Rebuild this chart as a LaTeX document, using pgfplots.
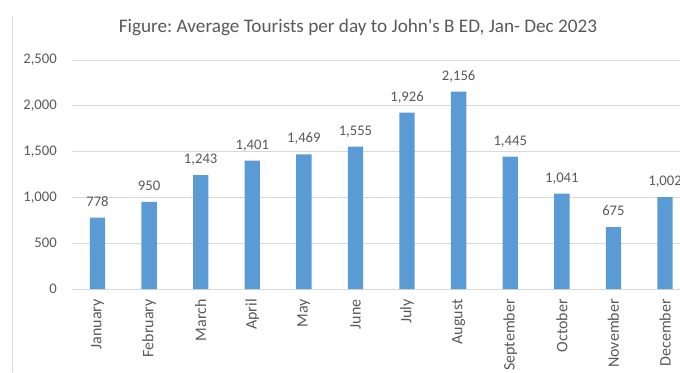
\documentclass[border=0pt]{standalone}
\usepackage{pgfplots}
\pgfplotsset{compat=1.18}
\usepackage{fontspec}
\setmainfont{Carlito}
\newfontfamily\labelfont{Carlito}
\newfontfamily\titlefont{Carlito}[Ligatures=TeXOff]
\definecolor{barblue}{HTML}{5B9BD5}
\definecolor{txt}{HTML}{595959}
\definecolor{gridc}{HTML}{D9D9D9}
\frenchspacing
\begin{document}
\begin{tikzpicture}
\useasboundingbox (0,0) rectangle (510pt,279pt);
\draw[gridc, line width=0.75pt] (9pt,0) -- (9pt,267pt);
\node[txt, font=\titlefont\fontsize{14.4}{17}\selectfont, anchor=base, inner sep=0pt] at (268.5pt,254.25pt) {Figure: Average Tourists per day to John's B ED, Jan- Dec 2023};
\begin{axis}[
  at={(54pt,62.25pt)}, anchor=south west,
  scale only axis, width=456pt, height=171.75pt,
  xmin=-0.494, xmax=11.29, ymin=0, ymax=2500,
  ytick={0,500,1000,1500,2000,2500},
  xtick={0,1,2,3,4,5,6,7,8,9,10,11},
  xticklabels={January,February,March,April,May,June,July,August,September,October,November,December},
  axis line style={draw=none},
  major tick length=0pt,
  ymajorgrids, grid style={gridc, line width=0.75pt},
  /pgf/number format/.cd, 1000 sep={,}, assume math mode=true, /pgfplots/.cd,
  yticklabel style={txt, font=\fontsize{11}{12}\selectfont, anchor=east, inner sep=0pt},
  yticklabel shift=11.25pt,
  xticklabel style={txt, font=\labelfont\fontsize{12}{13}\selectfont, rotate=90, anchor=east, inner sep=0pt},
  xticklabel shift=7.5pt,
  ybar, bar width=11.5pt,
  nodes near coords,
  every node near coord/.append style={txt, font=\fontsize{11}{12}\selectfont, anchor=base, inner sep=0pt, yshift=8.6pt},
  clip=false,
]
\addplot[fill=barblue, draw=none] coordinates {
(0,778) (1,950) (2,1243) (3,1401) (4,1469) (5,1555) (6,1926) (7,2156) (8,1445) (9,1041) (10,675) (11,1002)};
\end{axis}
\end{tikzpicture}
\end{document}
